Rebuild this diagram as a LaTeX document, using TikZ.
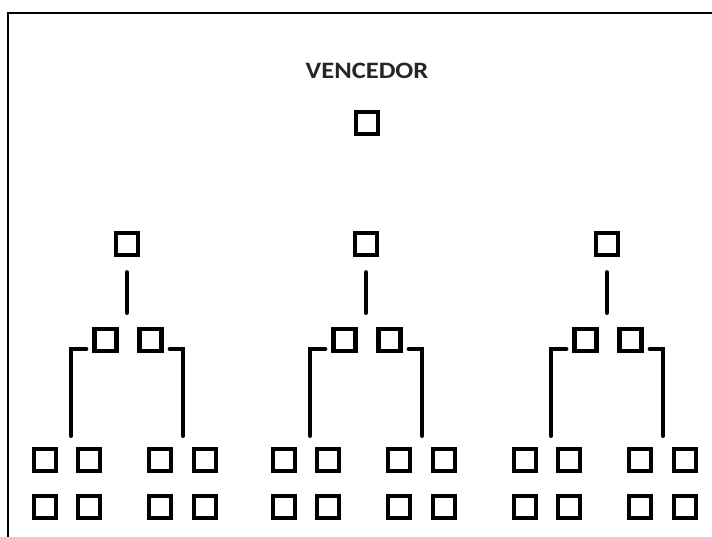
\documentclass[tikz,border=0pt]{standalone}
\usepackage{fontspec}
\setmainfont{Carlito}
\usepackage{tikz}

\tikzset{
  box/.style={draw, line width=4.3pt, inner sep=0pt, minimum size=22pt},
  link/.style={line width=4pt, line cap=round, line join=miter},
}

\begin{document}
\begin{tikzpicture}[x=1pt, y=-1pt]
\useasboundingbox (0,0) rectangle (712,537);
% open frame: top and left edges only
\draw[line width=2pt] (8,537) -- (8,13) -- (712,13);

\node[font=\fontsize{23.5}{26}\selectfont\bfseries, text=black!85, xscale=1.13] (title) at (367,71) {VENCEDOR};
\node[box] (winner) at (367,123) {};

\foreach \c [count=\i] in {127,366,607} {
  \node[box] (top\i) at (\c,244) {};
  \node[box] (semiL\i) at (\c-21.5,340) {};
  \node[box] (semiR\i) at (\c+23.5,340) {};
  \coordinate (stem\i) at (\c,313);
  \coordinate (forkL\i) at (\c-56,349);
  \coordinate (forkR\i) at (\c+56,349);
  \coordinate (endL\i) at (\c-56,436);
  \coordinate (endR\i) at (\c+56,436);
  % stem between the top box and the semifinal pair
  \draw[link] ([yshift=-15pt]top\i.south) -- (stem\i);
  % brackets down to the first round
  \draw[link] ([xshift=-6pt]semiL\i.west |- forkL\i) -- (forkL\i) -- (endL\i);
  \draw[link] ([xshift=6pt]semiR\i.east |- forkR\i) -- (forkR\i) -- (endR\i);
  % first round, two rows of four
  \foreach \dx [count=\j] in {-82,-38,33,78} {
    \node[box] (upper\i-\j) at (\c+\dx,460) {};
    \node[box] (lower\i-\j) at (\c+\dx,507) {};
  }
}
\end{tikzpicture}
\end{document}
